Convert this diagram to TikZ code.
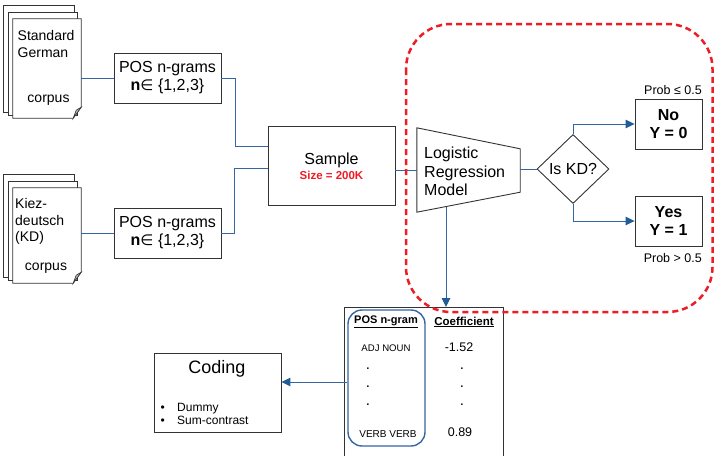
\documentclass[tikz,border=0pt]{standalone}
\usepackage{fontspec}
\setmainfont{Liberation Sans}
\newfontfamily\symfont{DejaVu Sans}
\usetikzlibrary{shapes.geometric,arrows.meta}
\definecolor{linkblue}{HTML}{3465A4}
\definecolor{tipblue}{HTML}{1F5C99}
\definecolor{dashred}{HTML}{EE1C25}
\definecolor{boxline}{HTML}{333333}
\begin{document}
\begin{tikzpicture}[x=1pt,y=-1pt,
  box/.style={draw=boxline,line width=0.9pt,fill=white,inner sep=0pt,align=center},
  page/.style={draw=boxline,line width=0.8pt,fill=white},
  link/.style={draw=linkblue,line width=1pt},
  arrowlink/.style={link,-{Triangle[length=9pt,width=8.5pt,color=tipblue]}},
  txt/.style={inner sep=0pt,align=center},
  f14/.style={font=\fontsize{14}{17}\selectfont},
  f16/.style={font=\fontsize{16}{18}\selectfont},
  f16b/.style={font=\fontsize{16}{18}\selectfont\bfseries},
  f12/.style={font=\fontsize{12.5}{14}\selectfont},
]
\useasboundingbox (0,0) rectangle (714,455);
\fill[white] (0,0) rectangle (714,455);

% corpus document stacks
\node[minimum width=68pt,minimum height=99pt,inner sep=0pt] (doc1) at (47,68.5) {};
\node[minimum width=68pt,minimum height=95pt,inner sep=0pt] (doc2) at (47,235.5) {};
\foreach \d in {doc1,doc2}{
  \draw[page] ([shift={(-9,-13)}]\d.north west) rectangle ([shift={(-7,-6)}]\d.south east);
  \draw[page] ([shift={(-4,-6)}]\d.north west) rectangle ([shift={(-4,-3)}]\d.south east);
  \draw[page] (\d.north west) -- (\d.north east) -- ([shift={(0,-11)}]\d.south east)
    -- ([shift={(-8,0)}]\d.south east) -- (\d.south west) -- cycle;
  \draw[boxline,fill=gray!55,line width=0.6pt] ([shift={(0,-11)}]\d.south east)
    -- ([shift={(-8,0)}]\d.south east) -- ([shift={(-5,-8)}]\d.south east) -- cycle;
}
\node[txt,f14,align=left,anchor=west] (doc1title) at (17.5,44) {Standard\\German};
\node[txt,f14] (doc1corpus) at (48.5,100) {corpus};
\node[txt,f14,align=left,anchor=west,font=\fontsize{14}{16.5}\selectfont] (doc2title) at (15,221.5) {Kiez-\\deutsch\\(KD)};
\node[txt,f14] (doc2corpus) at (46,268) {corpus};

% n-gram extraction
\node[box,f16,minimum width=107pt,minimum height=50pt] (pos1) at (167.5,78)
  {POS n-grams\\{\bfseries n}{\symfont\fontsize{15}{18}\selectfont ∈} \{1,2,3\}};
\node[box,f16,minimum width=107pt,minimum height=50pt] (pos2) at (167.5,233)
  {POS n-grams\\{\bfseries n}{\symfont\fontsize{15}{18}\selectfont ∈} \{1,2,3\}};
\draw[link] (pos1.west -| doc1.east) -- (pos1.west);
\draw[link] (pos2.west -| doc2.east) -- (pos2.west);

% sample
\node[box,minimum width=127pt,minimum height=79pt] (sample) at (331.5,165.5) {};
\node[txt,f16] (sampletitle) at (331.5,160) {Sample};
\node[txt,font=\fontsize{11.5}{13}\selectfont\bfseries,text=dashred] (samplesize) at (331.5,175) {Size = 200K};
\draw[link] (pos1.east) -- ++(14.5,0) |- ([yshift=19.5pt]sample.west);
\draw[link] (pos2.east) -- ++(13.5,0) |- ([yshift=-2.5pt]sample.west);

% logistic regression model
\node[minimum width=103pt,minimum height=84pt,inner sep=0pt] (lrm) at (468.5,170) {};
\draw[boxline,line width=0.9pt,fill=white] (lrm.north west) -- ([shift={(0,21)}]lrm.north east)
  -- ([shift={(0,-20)}]lrm.south east) -- (lrm.south west) -- cycle;
\node[txt,align=left,anchor=west,font=\fontsize{16}{18.5}\selectfont] (lrmtext) at (424,171.5) {Logistic\\Regression\\Model};
\draw[link] (lrm.west -| sample.east) -- (lrm.west);

% decision
\node[draw=boxline,line width=0.9pt,fill=white,diamond,aspect=1,inner sep=0pt,
  minimum width=72pt,minimum height=69pt,f16] (kd) at (573,169) {Is KD?};
\draw[link] (kd.west -| lrm.east) -- (kd.west);
\node[box,f16b,minimum width=67pt,minimum height=50pt] (no) at (668.5,124) {No\\Y = 0};
\node[box,f16b,minimum width=67pt,minimum height=50pt] (yes) at (668.5,221) {Yes\\Y = 1};
\draw[arrowlink] (kd.north) |- (no.west);
\draw[arrowlink] (kd.south) |- (yes.west);
\node[txt,f12,anchor=east] (probno) at (702,90) {Prob ≤ 0.5};
\node[txt,f12,anchor=east] (probyes) at (702,258) {Prob > 0.5};

% coefficient table
\node[draw=boxline,line width=0.9pt,fill=white,minimum width=159pt,minimum height=170pt,
  inner sep=0pt,anchor=north] (tbl) at (423.5,307) {};
\node[draw=linkblue,line width=1.4pt,rounded corners=14pt,minimum width=77pt,
  minimum height=136pt,inner sep=0pt] (ngcol) at (386.5,378) {};
\node[txt,font=\fontsize{11}{13}\selectfont\bfseries] (hdngram) at (386,322) {\underline{POS n-gram}};
\node[txt,font=\fontsize{11.5}{13}\selectfont\bfseries] (hdcoef) at (464,322) {\underline{Coefficient}};
\node[txt,font=\fontsize{9.6}{11}\selectfont] (row1a) at (386,348) {ADJ NOUN};
\node[txt,f12] (row1b) at (459,347) {-1.52};
\foreach \yy [count=\i] in {372,390,408}{
  \node[txt,font=\fontsize{15}{16}\selectfont] (dota\i) at (368,\yy-3.5) {.};
  \node[txt,font=\fontsize{15}{16}\selectfont] (dotb\i) at (462,\yy-3.5) {.};
}
\node[txt,font=\fontsize{10}{12}\selectfont] (row2a) at (388,434) {VERB VERB};
\node[txt,f12] (row2b) at (460,432) {0.89};

% output coding
\node[box,minimum width=127pt,minimum height=79pt] (coding) at (217.5,392.5) {};
\node[txt,font=\fontsize{18}{20}\selectfont] (codingtitle) at (217,369) {Coding};
\node[txt,align=left,anchor=west,font=\fontsize{12}{12.5}\selectfont] (codinglist) at (160.5,414)
  {\makebox[16.5pt][l]{•}Dummy\\\makebox[16.5pt][l]{•}Sum-contrast};
\draw[arrowlink] ([yshift=-4pt]ngcol.west) -- ([yshift=-4pt]ngcol.west -| coding.east);

% model boundary
\draw[dashred,line width=2.5pt,dash pattern=on 6pt off 4pt,rounded corners=45pt]
  (406,24) rectangle (712.5,312);

\coordinate (lrmbottom) at (446,206.5);
\draw[arrowlink] (lrmbottom) -- (lrmbottom |- tbl.north);
\end{tikzpicture}
\end{document}
